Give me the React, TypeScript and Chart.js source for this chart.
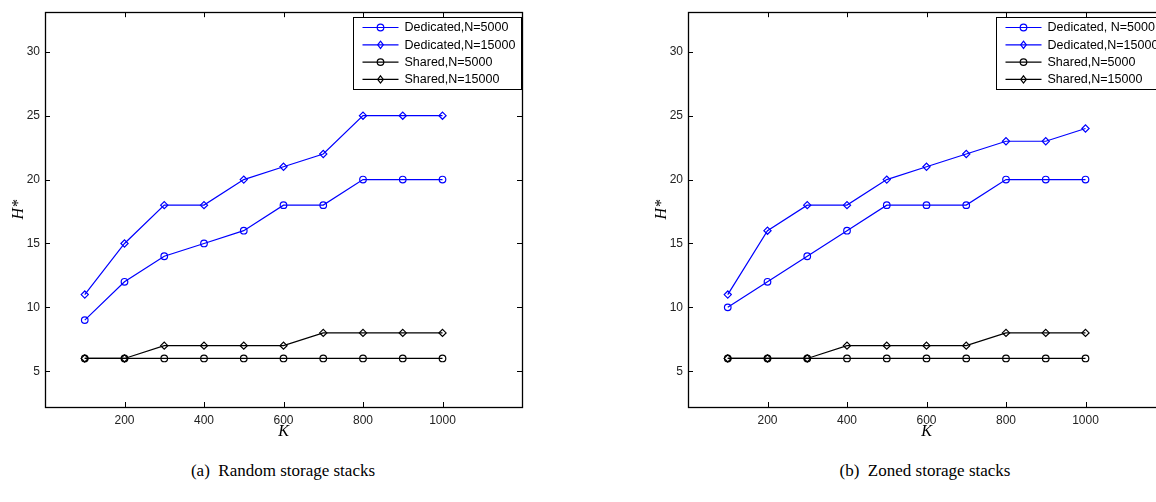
import React, { useEffect, useRef } from "react";
import { Chart, registerables } from "chart.js";

Chart.register(...registerables);

// ---------- data ----------
const kValues = [100, 200, 300, 400, 500, 600, 700, 800, 900, 1000];
const xTicks = [200, 400, 600, 800, 1000];
const yTicks = [5, 10, 15, 20, 25, 30];

// (a) Random storage stacks
const randomDedicated5000 = [9, 12, 14, 15, 16, 18, 18, 20, 20, 20];
const randomDedicated15000 = [11, 15, 18, 18, 20, 21, 22, 25, 25, 25];
const randomShared5000 = [6, 6, 6, 6, 6, 6, 6, 6, 6, 6];
const randomShared15000 = [6, 6, 7, 7, 7, 7, 8, 8, 8, 8];
const legendLabelsA = ["Dedicated,N=5000", "Dedicated,N=15000", "Shared,N=5000", "Shared,N=15000"];

// (b) Zoned storage stacks
const zonedDedicated5000 = [10, 12, 14, 16, 18, 18, 18, 20, 20, 20];
const zonedDedicated15000 = [11, 16, 18, 18, 20, 21, 22, 23, 23, 24];
const zonedShared5000 = [6, 6, 6, 6, 6, 6, 6, 6, 6, 6];
const zonedShared15000 = [6, 6, 6, 7, 7, 7, 7, 8, 8, 8];
const legendLabelsB = ["Dedicated, N=5000", "Dedicated,N=15000", "Shared,N=5000", "Shared,N=15000"];

const captionA = "(a)  Random storage stacks";
const captionB = "(b)  Zoned storage stacks";
const xTitle = "K";
const yTitle = "H*";

const BLUE = "#0000ff";
const BLACK = "#000000";

function drawMarker(ctx: CanvasRenderingContext2D, style: string, x: number, y: number) {
  ctx.beginPath();
  if (style === "circle") {
    ctx.arc(x, y, 3.3, 0, Math.PI * 2);
  } else {
    ctx.moveTo(x, y - 3.6);
    ctx.lineTo(x + 2.8, y);
    ctx.lineTo(x, y + 3.6);
    ctx.lineTo(x - 2.8, y);
    ctx.closePath();
  }
  ctx.stroke();
}

const framePlugin = {
  id: "frameLegend",
  afterDatasetsDraw(chart: any) {
    const { ctx, chartArea } = chart;
    const { left, top, right, bottom } = chartArea;
    const labels: string[] = chart.options.plugins.customLegend.labels;
    ctx.save();
    ctx.strokeStyle = "#000";
    ctx.lineWidth = 1;
    const xs = chart.scales.x;
    const ys = chart.scales.y;
    ctx.beginPath();
    xs.ticks.forEach((t: any) => {
      const px = Math.round(xs.getPixelForValue(t.value)) + 0.5;
      ctx.moveTo(px, bottom);
      ctx.lineTo(px, bottom - 5);
      ctx.moveTo(px, top);
      ctx.lineTo(px, top + 5);
    });
    ys.ticks.forEach((t: any) => {
      const py = Math.round(ys.getPixelForValue(t.value)) + 0.5;
      ctx.moveTo(left, py);
      ctx.lineTo(left + 5, py);
      ctx.moveTo(right, py);
      ctx.lineTo(right - 5, py);
    });
    ctx.stroke();
    ctx.lineWidth = 1.3;
    ctx.strokeRect(Math.round(left) + 0.5, Math.round(top) + 0.5, Math.round(right - left), Math.round(bottom - top));

    // legend
    const bx = Math.round(left) + 308.5;
    const by = Math.round(top) + 5.5;
    const bw = 168;
    const bh = 72;
    ctx.fillStyle = "#fff";
    ctx.fillRect(bx, by, bw, bh);
    ctx.lineWidth = 1;
    ctx.strokeRect(bx, by, bw, bh);
    ctx.font = "12.5px \"Liberation Sans\", Arial, sans-serif";
    ctx.textBaseline = "middle";
    ctx.textAlign = "left";
    chart.data.datasets.forEach((ds: any, i: number) => {
      const y = by + 10 + i * 17.3;
      ctx.strokeStyle = ds.borderColor;
      ctx.lineWidth = 1.2;
      ctx.beginPath();
      ctx.moveTo(bx + 9, y);
      ctx.lineTo(bx + 45, y);
      ctx.stroke();
      drawMarker(ctx, ds.pointStyle, bx + 27, y);
      ctx.fillStyle = "#000";
      ctx.fillText(labels[i], bx + 51, y + 0.5);
    });
    ctx.restore();
  },
};

function makeDataset(vals: number[], color: string, marker: string) {
  return {
    data: kValues.map((k, i) => ({ x: k, y: vals[i] })),
    borderColor: color,
    backgroundColor: "rgba(0,0,0,0)",
    borderWidth: 1.2,
    pointStyle: marker,
    pointRadius: marker === "circle" ? 3.3 : 3.6,
    pointBorderWidth: 1.2,
    pointBorderColor: color,
    pointBackgroundColor: "rgba(0,0,0,0)",
    tension: 0,
    fill: false,
  };
}

const tickFont = { family: "\"Liberation Sans\", Arial, sans-serif", size: 12 };
const titleFont = { family: "\"Liberation Serif\", \"Times New Roman\", serif", size: 16, style: "italic" as const };

function Panel({ series, labels }: { series: number[][]; labels: string[] }) {
  const ref = useRef<HTMLCanvasElement | null>(null);
  useEffect(() => {
    if (!ref.current) return;
    const chart = new Chart(ref.current, {
      type: "line",
      data: {
        datasets: [
          makeDataset(series[0], BLUE, "circle"),
          makeDataset(series[1], BLUE, "rectRot"),
          makeDataset(series[2], BLACK, "circle"),
          makeDataset(series[3], BLACK, "rectRot"),
        ] as any,
      },
      options: {
        animation: false,
        responsive: false,
        maintainAspectRatio: false,
        devicePixelRatio: 1,
        layout: { padding: { top: 9, right: 18, left: 0, bottom: 0 } },
        plugins: {
          legend: { display: false },
          tooltip: { enabled: false },
          customLegend: { labels },
        } as any,
        scales: {
          x: {
            type: "linear",
            min: 0,
            max: 1200,
            afterBuildTicks: (s: any) => {
              s.ticks = xTicks.map((v) => ({ value: v }));
            },
            afterFit: (s: any) => {
              s.height = 38;
            },
            grid: { display: false, drawTicks: false, tickLength: 0 },
            border: { display: false },
            ticks: {
              font: tickFont,
              color: "#222",
              padding: 6,
              maxRotation: 0,
              autoSkip: false,
              callback: (v: any) => String(v),
            },
            title: { display: true, text: xTitle, font: titleFont, color: "#000", padding: { top: 0, bottom: 4 } },
          },
          y: {
            type: "linear",
            min: 2.2,
            max: 33.1,
            afterBuildTicks: (s: any) => {
              s.ticks = yTicks.map((v) => ({ value: v }));
            },
            afterFit: (s: any) => {
              s.width = 45;
            },
            grid: { display: false, drawTicks: false, tickLength: 0 },
            border: { display: false },
            ticks: { font: tickFont, color: "#222", padding: 5, autoSkip: false, callback: (v: any) => String(v) },
            title: { display: true, text: yTitle, font: titleFont, color: "#000", padding: { top: 9, bottom: 0 } },
          },
        },
      },
      plugins: [framePlugin],
    });
    return () => chart.destroy();
  }, []);
  return <canvas ref={ref} width={540} height={445} style={{ width: 540, height: 445, display: "block" }} />;
}

export default function App() {
  const captionStyle: React.CSSProperties = {
    position: "absolute",
    top: 460,
    width: 400,
    textAlign: "center",
    fontFamily: "'Liberation Serif', 'Times New Roman', serif",
    fontSize: 17,
    lineHeight: "22px",
    color: "#000",
    whiteSpace: "pre",
  };
  return (
    <div
      style={{
        position: "fixed",
        left: 0,
        top: 0,
        width: 1156,
        height: 502,
        overflow: "hidden",
        background: "#fff",
      }}
    >
      <div style={{ position: "absolute", left: 0, top: 0 }}>
        <Panel
          series={[randomDedicated5000, randomDedicated15000, randomShared5000, randomShared15000]}
          labels={legendLabelsA}
        />
      </div>
      <div style={{ position: "absolute", left: 643, top: 0 }}>
        <Panel
          series={[zonedDedicated5000, zonedDedicated15000, zonedShared5000, zonedShared15000]}
          labels={legendLabelsB}
        />
      </div>
      <div style={{ ...captionStyle, left: 283 - 200 }}>{captionA}</div>
      <div style={{ ...captionStyle, left: 925 - 200 }}>{captionB}</div>
    </div>
  );
}
